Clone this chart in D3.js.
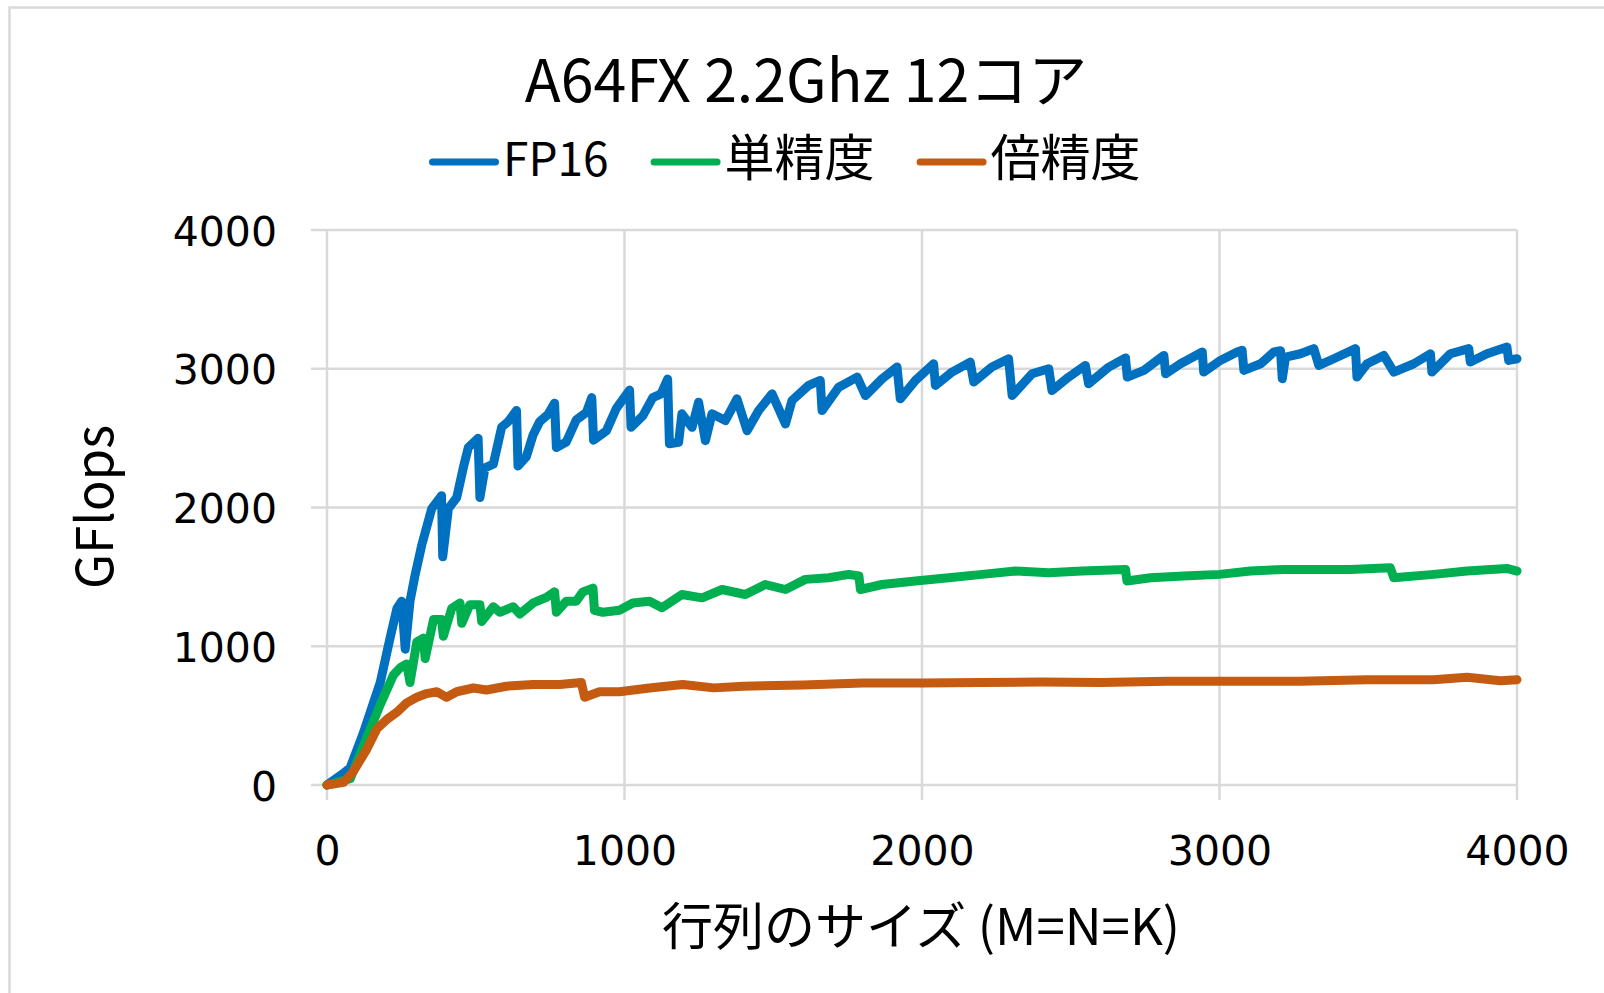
<!DOCTYPE html>
<html lang="ja">
  <head>
    <meta charset="utf-8">
    <title>A64FX 2.2Ghz 12コア</title>
    <script type="text/javascript" src="https://d3js.org/d3.v7.min.js" charset="utf-8"></script>
    <style type="text/css">
      body { margin: 0; background: #fff; }
      .tick-label { font-family: "DejaVu Sans", sans-serif; font-size: 41px; fill: #000; }
      .cjk { font-family: "Noto Sans CJK JP", sans-serif; fill: #000; }
    </style>
  </head>
  <body>
<script type="text/javascript">

// values: [matrix size, GFlops]
var fp16 = [[0,0],[56,85],[78,125],[123,379],[179,739],[212,1059],[235,1272],[251,1325],[263,979],[279,1325],[296,1512],[318,1725],[352,1992],[385,2085],[389,1645],[408,1992],[436,2072],[458,2285],[475,2432],[508,2499],[514,2072],[531,2285],[559,2312],[587,2579],[609,2619],[637,2699],[642,2299],[670,2366],[693,2525],[715,2619],[743,2672],[765,2752],[771,2432],[804,2472],[838,2632],[872,2686],[890,2792],[896,2485],[939,2552],[972,2712],[1017,2846],[1022,2579],[1061,2659],[1095,2792],[1123,2819],[1145,2926],[1151,2459],[1182,2470],[1193,2675],[1227,2578],[1249,2759],[1272,2482],[1294,2675],[1339,2627],[1378,2783],[1412,2554],[1451,2699],[1496,2819],[1541,2602],[1563,2771],[1619,2880],[1658,2916],[1664,2699],[1720,2867],[1782,2940],[1810,2807],[1866,2928],[1916,3012],[1927,2783],[1978,2916],[2039,3036],[2045,2880],[2101,2976],[2162,3048],[2174,2904],[2235,3012],[2291,3072],[2303,2807],[2370,2964],[2426,3000],[2437,2843],[2493,2940],[2549,3024],[2560,2892],[2628,3012],[2684,3078],[2690,2940],[2746,2988],[2813,3096],[2819,2964],[2869,3036],[2942,3121],[2947,2976],[3003,3060],[3059,3121],[3076,3133],[3082,2988],[3138,3036],[3183,3121],[3205,3130],[3211,2928],[3222,3084],[3272,3108],[3317,3145],[3334,3024],[3384,3072],[3457,3145],[3462,2940],[3496,3036],[3552,3096],[3586,2976],[3653,3036],[3709,3108],[3714,2976],[3776,3108],[3838,3145],[3843,3048],[3899,3108],[3966,3157],[3972,3060],[4000,3072]];

var single = [[0,0],[78,45],[123,285],[179,579],[223,792],[246,845],[268,872],[279,739],[302,1032],[324,1059],[330,912],[358,1192],[385,1192],[391,1072],[419,1272],[447,1312],[453,1165],[480,1299],[514,1299],[520,1179],[559,1285],[581,1245],[626,1285],[648,1232],[693,1312],[737,1352],[765,1392],[771,1245],[804,1325],[838,1325],[860,1392],[894,1419],[899,1259],[927,1245],[983,1259],[1028,1312],[1084,1325],[1126,1277],[1193,1373],[1261,1349],[1328,1409],[1406,1373],[1473,1445],[1541,1409],[1608,1482],[1686,1494],[1754,1518],[1788,1506],[1793,1409],[1866,1445],[1978,1470],[2090,1494],[2202,1518],[2314,1542],[2426,1530],[2538,1542],[2684,1554],[2689,1470],[2768,1494],[2880,1506],[3000,1518],[3104,1542],[3216,1554],[3328,1554],[3440,1554],[3574,1566],[3586,1494],[3720,1518],[3832,1542],[3966,1561],[4000,1542]];

var double = [[0,0],[56,19],[89,99],[134,259],[168,405],[201,472],[235,525],[268,592],[302,632],[335,659],[369,672],[402,632],[436,672],[492,699],[536,685],[603,712],[693,725],[782,725],[855,739],[866,632],[916,672],[983,672],[1084,699],[1196,725],[1300,700],[1400,712],[1600,720],[1800,735],[2000,735],[2200,738],[2400,742],[2600,738],[2824,747],[3000,747],[3272,747],[3496,759],[3720,759],[3832,776],[3944,752],[4000,759]];

var seriesNames = ["FP16", "単精度", "倍精度"];
var seriesColors = ["#0070C0", "#00B050", "#C55A11"];
var xTicks = [0, 1000, 2000, 3000, 4000];
var yTicks = [0, 1000, 2000, 3000, 4000];
var chartTitle = "A64FX 2.2Ghz 12コア";
var xTitle = "行列のサイズ (M=N=K)";
var yTitle = "GFlops";

var W = 1604, H = 993;
var svg = d3.select("body").append("svg")
    .attr("width", W)
    .attr("height", H);

// chart frame
svg.append("rect")
    .attr("x", 9.5).attr("y", 7.5)
    .attr("width", 1700).attr("height", 1100)
    .attr("fill", "#fff")
    .attr("stroke", "#d9d9d9")
    .attr("stroke-width", 2.5);

var x = d3.scaleLinear().domain([0, 4000]).range([327, 1517]);
var y = d3.scaleLinear().domain([0, 4000]).range([785, 230]);

// gridlines (with the small outside tick stubs)
svg.append("g").selectAll("line").data(yTicks).join("line")
    .attr("x1", x(0) - 16).attr("x2", x(4000))
    .attr("y1", d => y(d)).attr("y2", d => y(d))
    .attr("stroke", "#d9d9d9").attr("stroke-width", 2.5);
svg.append("g").selectAll("line").data(xTicks).join("line")
    .attr("x1", d => x(d)).attr("x2", d => x(d))
    .attr("y1", y(4000)).attr("y2", y(0) + 15)
    .attr("stroke", "#d9d9d9").attr("stroke-width", 2.5);

// axes (labels only, lines come from the grid above)
var gX = svg.append("g")
    .attr("transform", `translate(0,${y(0)})`)
    .call(d3.axisBottom(x).tickValues(xTicks).tickFormat(d3.format("d")).tickSize(0).tickPadding(80))
    .call(g => g.select(".domain").remove());
gX.selectAll("text").attr("class", "tick-label").attr("dy", 0);
gX.attr("font-size", null).attr("font-family", null);

var gY = svg.append("g")
    .attr("transform", `translate(${x(0)},0)`)
    .call(d3.axisLeft(y).tickValues(yTicks).tickFormat(d3.format("d")).tickSize(0).tickPadding(50))
    .call(g => g.select(".domain").remove());
gY.selectAll("text").attr("class", "tick-label").attr("dy", 15);
gY.attr("font-size", null).attr("font-family", null);

// series lines
var line = d3.line().x(d => x(d[0])).y(d => y(d[1]));
[fp16, single, double].forEach(function(s, i) {
  svg.append("path")
      .datum(s)
      .attr("d", line)
      .attr("fill", "none")
      .attr("stroke", seriesColors[i])
      .attr("stroke-width", 9)
      .attr("stroke-linejoin", "round")
      .attr("stroke-linecap", "round");
});

// title
svg.append("text")
    .attr("class", "cjk")
    .attr("x", 806).attr("y", 102)
    .attr("text-anchor", "middle")
    .attr("font-size", 59)
    .text(chartTitle);

// legend
var lx = 429;
seriesNames.forEach(function(name, i) {
  svg.append("line")
      .attr("x1", lx + 3.5).attr("x2", lx + 66.5)
      .attr("y1", 162).attr("y2", 162)
      .attr("stroke", seriesColors[i])
      .attr("stroke-width", 7)
      .attr("stroke-linecap", "round");
  var t = svg.append("text")
      .attr("class", "cjk")
      .attr("x", lx + 74).attr("y", 176)
      .attr("font-size", i == 0 ? 46 : 50)
      .text(name);
  lx += 74 + t.node().getComputedTextLength() + 42;
});

// axis titles
svg.append("text")
    .attr("class", "cjk")
    .attr("x", 921).attr("y", 945)
    .attr("text-anchor", "middle")
    .attr("font-size", 51)
    .attr("fill", "#111")
    .text(xTitle);

svg.append("text")
    .attr("class", "cjk")
    .attr("transform", "translate(113,507) rotate(-90)")
    .attr("text-anchor", "middle")
    .attr("font-size", 51)
    .text(yTitle);

    </script>
  </body>
</html>
